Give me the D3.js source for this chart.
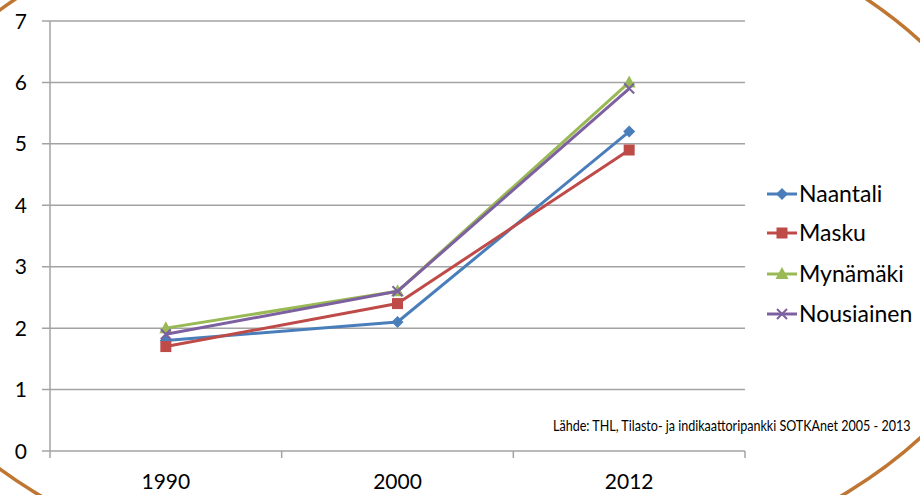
<!DOCTYPE html>
<html><head><meta charset="utf-8">
<script src="https://cdn.jsdelivr.net/npm/d3@7"></script>
<style>html,body{margin:0;padding:0;background:#fff;overflow:hidden}</style>
</head><body><svg id="c" width="920" height="495"></svg>
<script>
const categories = ["1990", "2000", "2012"];
const seriesNames = ["Naantali", "Masku", "Mynämäki", "Nousiainen"];
const naantali = [1.8, 2.1, 5.2];
const masku = [1.7, 2.4, 4.9];
const mynamaki = [2.0, 2.6, 6.0];
const nousiainen = [1.9, 2.6, 5.9];
const yTicks = [0, 1, 2, 3, 4, 5, 6, 7];
const sourceText = "Lähde: THL, Tilasto- ja indikaattoripankki SOTKAnet 2005 - 2013";

const seriesValues = [naantali, masku, mynamaki, nousiainen];
const colors = ["#4A7EBB", "#BE4B48", "#98B954", "#7D60A0"];
const markers = ["diamond", "square", "triangle", "x"];

const svg = d3.select("#c");
const pLeft = 50, pRight = 745, pTop = 21, pBottom = 451;
const x = d3.scaleBand().domain(categories).range([pLeft, pRight]).padding(0);
const y = d3.scaleLinear().domain([0, 7]).range([pBottom, pTop]);
const font = "Lato, 'Open Sans', sans-serif";

svg.append("g").selectAll("line").data(yTicks).join("line")
  .attr("x1", pLeft - 8).attr("x2", pRight)
  .attr("y1", d => y(d)).attr("y2", d => y(d))
  .attr("stroke", "#a3a3a3").attr("stroke-width", 1.5);
svg.append("line").attr("x1", pLeft).attr("x2", pLeft).attr("y1", pTop).attr("y2", pBottom + 7)
  .attr("stroke", "#a3a3a3").attr("stroke-width", 1.5);
const xt = categories.map(c => x(c)).concat([pRight]);
svg.append("g").selectAll("line").data(xt.slice(1)).join("line")
  .attr("x1", d => d).attr("x2", d => d).attr("y1", pBottom).attr("y2", pBottom + 7)
  .attr("stroke", "#a3a3a3").attr("stroke-width", 1.5);
svg.append("g").selectAll("text").data(yTicks).join("text")
  .attr("x", 27).attr("y", d => y(d)).attr("dy", "0.36em")
  .attr("text-anchor", "end").attr("font-family", font).attr("font-size", 21)
  .attr("fill", "#000").text(d => d);
svg.append("g").selectAll("text").data(categories).join("text")
  .attr("x", d => x(d) + x.bandwidth() / 2).attr("y", 489)
  .attr("text-anchor", "middle").attr("font-family", font).attr("font-size", 21)
  .attr("fill", "#000").text(d => d);

function drawMarker(g, type, color, cx, cy) {
  if (type === "diamond") {
    g.append("path").attr("d", `M${cx},${cy-6}L${cx+6},${cy}L${cx},${cy+6}L${cx-6},${cy}Z`).attr("fill", color);
  } else if (type === "square") {
    g.append("rect").attr("x", cx - 5.5).attr("y", cy - 5.5).attr("width", 11).attr("height", 11).attr("fill", color);
  } else if (type === "triangle") {
    g.append("path").attr("d", `M${cx},${cy-7}L${cx+6.5},${cy+5}L${cx-6.5},${cy+5}Z`).attr("fill", color);
  } else {
    g.append("path").attr("d", `M${cx-5},${cy-5}L${cx+5},${cy+5}M${cx-5},${cy+5}L${cx+5},${cy-5}`)
      .attr("stroke", color).attr("stroke-width", 2);
  }
}

const line = d3.line().x((d, i) => x(categories[i]) + x.bandwidth() / 2).y(d => y(d));
seriesValues.forEach((vals, s) => {
  const g = svg.append("g");
  g.append("path").attr("d", line(vals)).attr("fill", "none")
    .attr("stroke", colors[s]).attr("stroke-width", 3).attr("stroke-linejoin", "round");
  vals.forEach((v, i) => drawMarker(g, markers[s], colors[s], x(categories[i]) + x.bandwidth() / 2, y(v)));
});

const legY = [194, 233, 274, 314];
seriesNames.forEach((n, s) => {
  const g = svg.append("g");
  g.append("line").attr("x1", 767).attr("x2", 797).attr("y1", legY[s]).attr("y2", legY[s])
    .attr("stroke", colors[s]).attr("stroke-width", 3);
  drawMarker(g, markers[s], colors[s], 782, legY[s]);
  g.append("text").attr("x", 799).attr("y", legY[s]).attr("dy", "0.35em")
    .attr("font-family", font).attr("font-size", 23).attr("fill", "#000").text(n);
});

const src = svg.append("text").attr("x", 0).attr("y", 0)
  .attr("font-family", font).attr("font-size", 16)
  .attr("fill", "#000").text(sourceText);
const natural = src.node().getComputedTextLength();
const sx = Math.min(1, 358 / natural);
src.attr("transform", `translate(553,431) scale(${sx},1)`);

svg.append("ellipse").attr("cx", 441).attr("cy", 239.5).attr("rx", 577).attr("ry", 356)
  .attr("fill", "none").attr("stroke", "#BF7632").attr("stroke-width", 3.5);
</script></body></html>
